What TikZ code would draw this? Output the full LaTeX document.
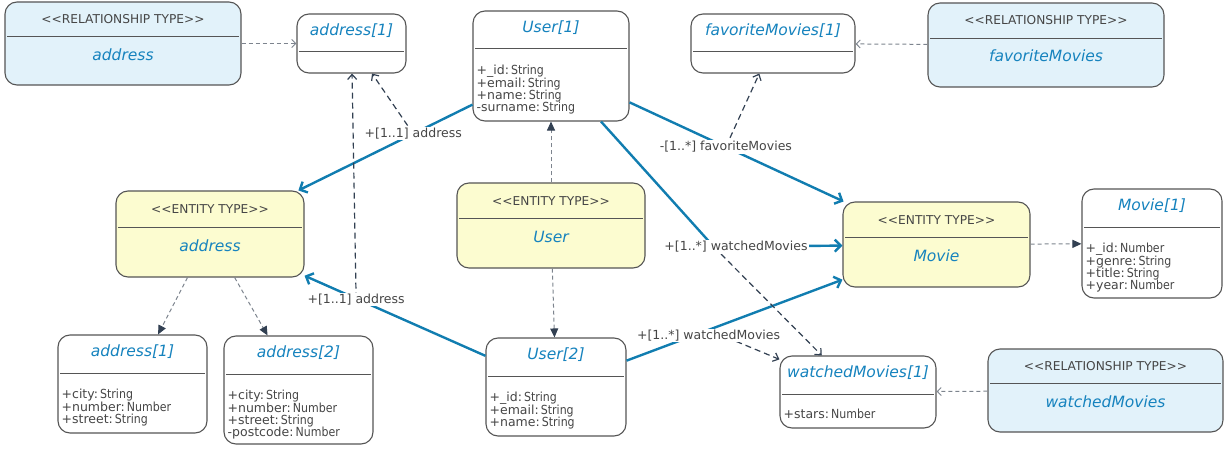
\documentclass[tikz,border=0pt]{standalone}
\usepackage{fontspec}
\setmainfont{DejaVu Sans}
\newfontfamily\typefont[FakeStretch=0.88]{DejaVu Sans}
\usetikzlibrary{arrows.meta}

\definecolor{assocblue}{RGB}{17,125,176}
\definecolor{nameblue}{RGB}{22,131,190}
\definecolor{relfill}{RGB}{226,242,250}
\definecolor{entfill}{RGB}{252,252,208}
\definecolor{boxline}{RGB}{85,85,85}
\definecolor{textgray}{RGB}{70,70,70}
\definecolor{linkdark}{RGB}{50,64,82}
\definecolor{linkgray}{RGB}{125,132,142}

% stereotype brackets, kept apart so they do not become guillemets
\newcommand{\stOpen}{<\kern0pt<}
\newcommand{\stClose}{>\kern0pt>}

\begin{document}
\begin{tikzpicture}[x=1pt, y=-1pt,
  box/.style={draw=boxline, line width=1.1pt, rounded corners=12pt, inner sep=0pt},
  relbox/.style={box, fill=relfill},
  entbox/.style={box, fill=entfill},
  instbox/.style={box, fill=white},
  stereo/.style={anchor=base, inner sep=0pt, text=textgray, font=\fontsize{12.2}{14}\selectfont},
  tname/.style={anchor=base, inner sep=0pt, text=nameblue, font=\fontsize{15.5}{18}\selectfont\itshape},
  attr/.style={anchor=base west, inner sep=0pt, text=textgray, font=\fontsize{12.5}{13}\selectfont},
  sep/.style={draw=boxline, line width=0.9pt},
  assoc/.style={draw=assocblue, line width=2.4pt, -{Straight Barb[length=6pt,width=12pt]}},
  link/.style={draw=linkdark, line width=1.2pt, dash pattern=on 6pt off 4pt, -{Straight Barb[length=5pt,width=9pt]}},
  rellink/.style={draw=linkgray, line width=1pt, dash pattern=on 4pt off 3pt, -{Straight Barb[length=4pt,width=8pt]}},
  instlink/.style={draw=linkgray, line width=1pt, dash pattern=on 4pt off 3pt, -{Triangle[length=9pt,width=8pt,color=linkdark]}},
  lbl/.style={fill=white, inner sep=1pt, text=textgray, font=\fontsize{12.5}{14}\selectfont}
]
\useasboundingbox (0,0) rectangle (1228,449);

% relationship types
\node[relbox, minimum width=236, minimum height=83] (relAddr) at (123,43.5) {};
\node[stereo] (relAddrSt) at ([yshift=20pt]relAddr.center) {\stOpen RELATIONSHIP TYPE\stClose};
\draw[sep] ([xshift=3pt,yshift=7pt]relAddr.west) -- ([xshift=-3pt,yshift=7pt]relAddr.east);
\node[tname] (relAddrNm) at ([yshift=-17pt]relAddr.center) {address};

\node[relbox, minimum width=236, minimum height=84] (relFav) at (1046,45) {};
\node[stereo] (relFavSt) at ([yshift=20pt]relFav.center) {\stOpen RELATIONSHIP TYPE\stClose};
\draw[sep] ([xshift=3pt,yshift=7pt]relFav.west) -- ([xshift=-3pt,yshift=7pt]relFav.east);
\node[tname] (relFavNm) at ([yshift=-17pt]relFav.center) {favoriteMovies};

\node[relbox, minimum width=235, minimum height=83] (relWatched) at (1105.5,390.5) {};
\node[stereo] (relWatchedSt) at ([yshift=20pt]relWatched.center) {\stOpen RELATIONSHIP TYPE\stClose};
\draw[sep] ([xshift=3pt,yshift=7pt]relWatched.west) -- ([xshift=-3pt,yshift=7pt]relWatched.east);
\node[tname] (relWatchedNm) at ([yshift=-17pt]relWatched.center) {watchedMovies};

% entity types
\node[entbox, minimum width=188, minimum height=86] (entAddr) at (210,234) {};
\node[stereo] (entAddrSt) at ([yshift=20pt]entAddr.center) {\stOpen ENTITY TYPE\stClose};
\draw[sep] ([xshift=3pt,yshift=7pt]entAddr.west) -- ([xshift=-3pt,yshift=7pt]entAddr.east);
\node[tname] (entAddrNm) at ([yshift=-17pt]entAddr.center) {address};

\node[entbox, minimum width=188, minimum height=85] (entUser) at (551,225.5) {};
\node[stereo] (entUserSt) at ([yshift=20pt]entUser.center) {\stOpen ENTITY TYPE\stClose};
\draw[sep] ([xshift=3pt,yshift=7pt]entUser.west) -- ([xshift=-3pt,yshift=7pt]entUser.east);
\node[tname] (entUserNm) at ([yshift=-17pt]entUser.center) {User};

\node[entbox, minimum width=187, minimum height=85] (entMovie) at (936.5,244.5) {};
\node[stereo] (entMovieSt) at ([yshift=20pt]entMovie.center) {\stOpen ENTITY TYPE\stClose};
\draw[sep] ([xshift=3pt,yshift=7pt]entMovie.west) -- ([xshift=-3pt,yshift=7pt]entMovie.east);
\node[tname] (entMovieNm) at ([yshift=-17pt]entMovie.center) {Movie};

% instances
\node[instbox, minimum width=109, minimum height=59] (addr1top) at (351.5,43.5) {};
\node[tname] (addr1topNm) at ([yshift=-22pt]addr1top.north) {address[1]};
\draw[sep] ([xshift=3pt,yshift=-38.5pt]addr1top.north west) -- ([xshift=-3pt,yshift=-38.5pt]addr1top.north east);

\node[instbox, minimum width=164, minimum height=59] (favM1) at (773,43.5) {};
\node[tname] (favM1Nm) at ([yshift=-22pt]favM1.north) {favoriteMovies[1]};
\draw[sep] ([xshift=3pt,yshift=-38.5pt]favM1.north west) -- ([xshift=-3pt,yshift=-38.5pt]favM1.north east);

\node[instbox, minimum width=156, minimum height=110] (User1) at (551,66) {};
\node[tname] (User1Nm) at ([yshift=-22pt]User1.north) {User[1]};
\draw[sep] ([xshift=3pt,yshift=-38.5pt]User1.north west) -- ([xshift=-3pt,yshift=-38.5pt]User1.north east);
\foreach \fld [count=\i] in {{+\_id:\,\typefont String},{+email:\,\typefont String},
    {+name:\,\typefont String},{-surname:\,\typefont String}}
  \node[attr] (User1a\i) at ([xshift=4pt,yshift={-64.5-12.3*(\i-1)}]User1.north west) {\fld};

\node[instbox, minimum width=140, minimum height=109] (Movie1) at (1152,243.5) {};
\node[tname] (Movie1Nm) at ([yshift=-22pt]Movie1.north) {Movie[1]};
\draw[sep] ([xshift=3pt,yshift=-38.5pt]Movie1.north west) -- ([xshift=-3pt,yshift=-38.5pt]Movie1.north east);
\foreach \fld [count=\i] in {{+\_id:\,\typefont Number},{+genre:\,\typefont String},
    {+title:\,\typefont String},{+year:\,\typefont Number}}
  \node[attr] (Movie1a\i) at ([xshift=4pt,yshift={-64.5-12.3*(\i-1)}]Movie1.north west) {\fld};

\node[instbox, minimum width=149, minimum height=98] (addrA1) at (132.5,384) {};
\node[tname] (addrA1Nm) at ([yshift=-22pt]addrA1.north) {address[1]};
\draw[sep] ([xshift=3pt,yshift=-38.5pt]addrA1.north west) -- ([xshift=-3pt,yshift=-38.5pt]addrA1.north east);
\foreach \fld [count=\i] in {{+city:\,\typefont String},{+number:\,\typefont Number},
    {+street:\,\typefont String}}
  \node[attr] (addrA1a\i) at ([xshift=4pt,yshift={-64.5-12.3*(\i-1)}]addrA1.north west) {\fld};

\node[instbox, minimum width=149, minimum height=108] (addrA2) at (298.5,390) {};
\node[tname] (addrA2Nm) at ([yshift=-22pt]addrA2.north) {address[2]};
\draw[sep] ([xshift=3pt,yshift=-38.5pt]addrA2.north west) -- ([xshift=-3pt,yshift=-38.5pt]addrA2.north east);
\foreach \fld [count=\i] in {{+city:\,\typefont String},{+number:\,\typefont Number},
    {+street:\,\typefont String},{-postcode:\,\typefont Number}}
  \node[attr] (addrA2a\i) at ([xshift=4pt,yshift={-64.5-12.3*(\i-1)}]addrA2.north west) {\fld};

\node[instbox, minimum width=140, minimum height=98] (User2) at (556,387) {};
\node[tname] (User2Nm) at ([yshift=-22pt]User2.north) {User[2]};
\draw[sep] ([xshift=3pt,yshift=-38.5pt]User2.north west) -- ([xshift=-3pt,yshift=-38.5pt]User2.north east);
\foreach \fld [count=\i] in {{+\_id:\,\typefont String},{+email:\,\typefont String},
    {+name:\,\typefont String}}
  \node[attr] (User2a\i) at ([xshift=4pt,yshift={-64.5-12.3*(\i-1)}]User2.north west) {\fld};

\node[instbox, minimum width=156, minimum height=72] (watched1) at (858,392) {};
\node[tname] (watched1Nm) at ([yshift=-22pt]watched1.north) {watchedMovies[1]};
\draw[sep] ([xshift=3pt,yshift=-38.5pt]watched1.north west) -- ([xshift=-3pt,yshift=-38.5pt]watched1.north east);
\node[attr] (watched1a1) at ([xshift=4pt,yshift=-63pt]watched1.north west) {+stars:\,\typefont Number};

% type -> instance
\draw[rellink] (relAddr) -- (addr1top);
\draw[rellink] (relFav) -- (favM1);
\draw[rellink] (relWatched) -- (watched1);
\draw[instlink] (entAddr) -- (addrA1);
\draw[instlink] (entAddr) -- (addrA2);
\draw[instlink] (entUser) -- (User1);
\draw[instlink] (entUser) -- (User2);
\draw[instlink] (entMovie) -- (Movie1);

% associations
\coordinate (wBend) at (714,247);
\draw[assoc] (User1) -- coordinate[pos=0.34] (mAddr1) (entAddr);
\draw[assoc] (User2) -- coordinate[pos=0.715] (mAddr2) (entAddr);
\draw[assoc] (User1) -- coordinate[pos=0.45] (mFav) (entMovie);
\draw[assoc] (User1) -- (wBend) -- (entMovie);
\draw[assoc] (User2) -- coordinate[pos=0.38] (mWatch2) (entMovie);

% association instances
\draw[link] (mAddr1) -- (addr1top);
\draw[link] (mAddr2) -- (addr1top);
\draw[link] (mFav) -- (favM1);
\draw[link] (wBend) -- (watched1);
\draw[link] (mWatch2) -- (watched1);

% labels
\node[lbl] (lblAddr1) at (mAddr1) {+[1..1] address};
\node[lbl] (lblAddr2) at ([yshift=-1pt]mAddr2) {+[1..1] address};
\node[lbl] (lblFav) at (mFav) {-[1..*] favoriteMovies};
\node[lbl] (lblWatch1) at ([xshift=22pt]wBend) {+[1..*] watchedMovies};
\node[lbl] (lblWatch2) at ([yshift=-6pt]mWatch2) {+[1..*] watchedMovies};
\end{tikzpicture}
\end{document}
